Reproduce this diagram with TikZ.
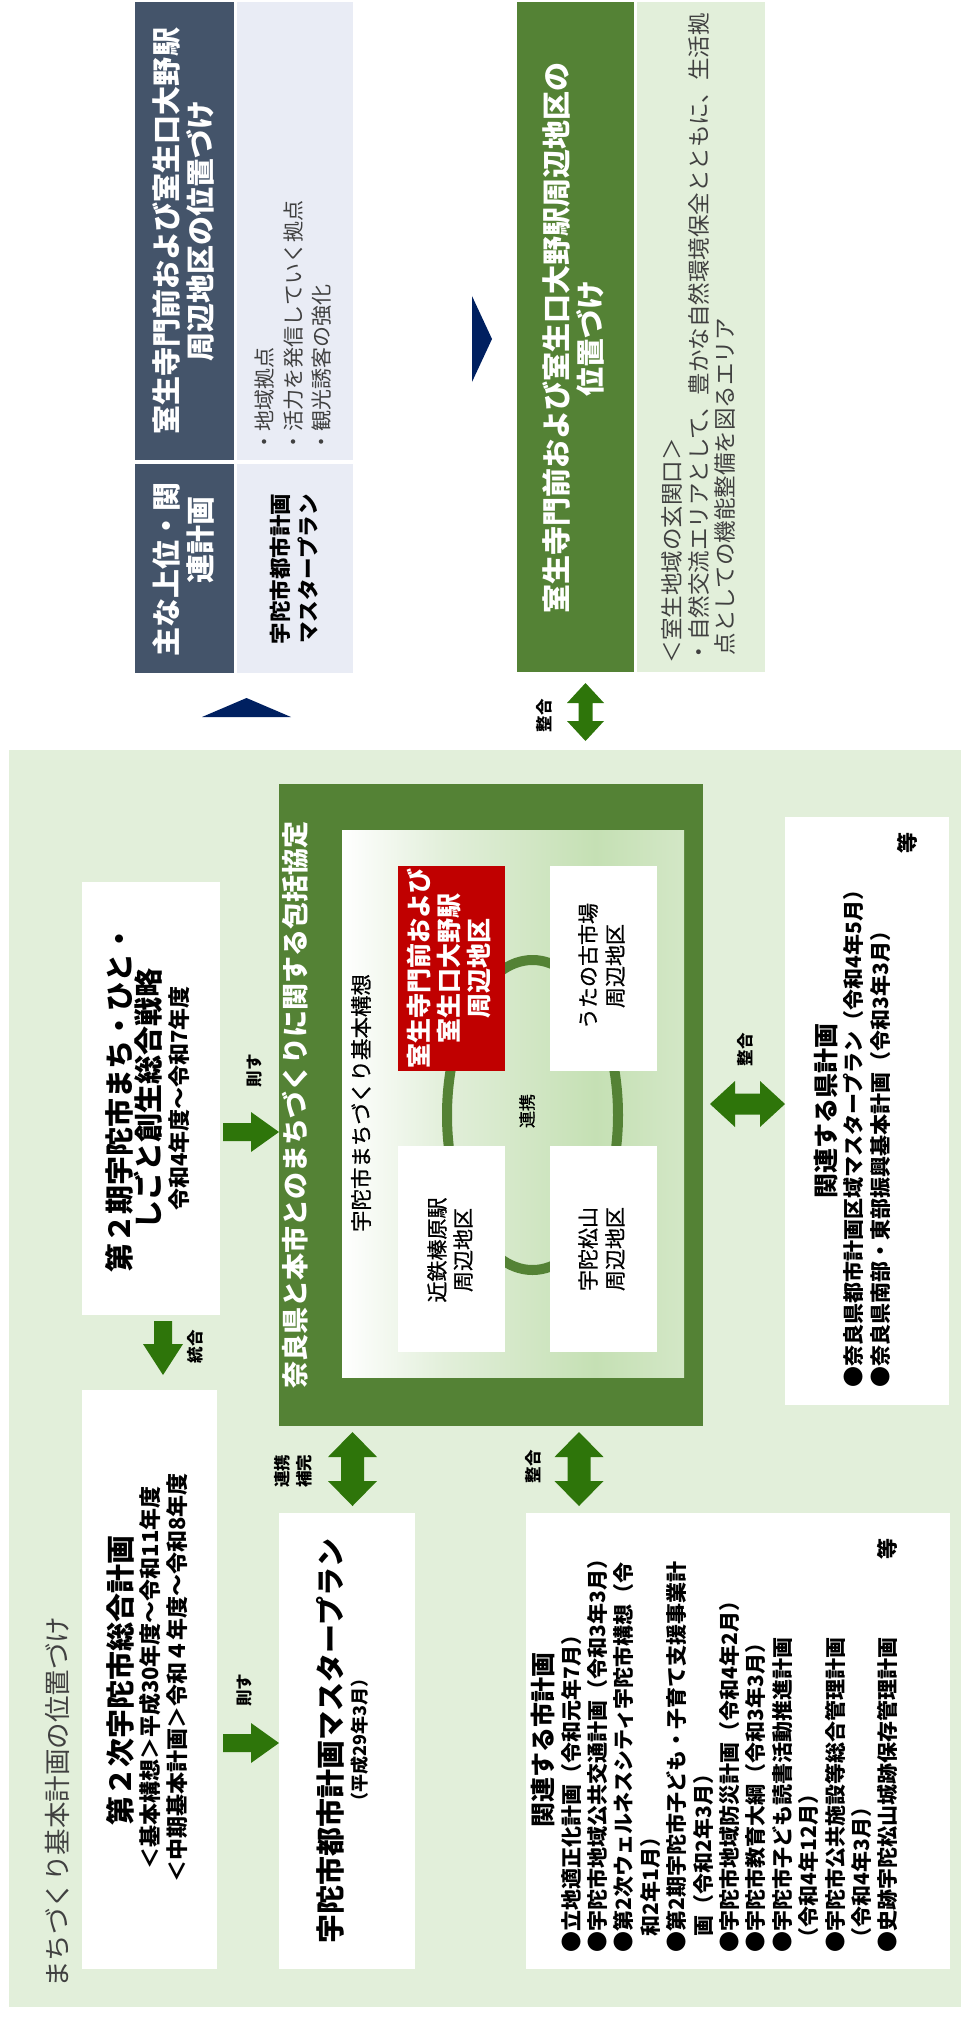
\documentclass[tikz,border=0pt]{standalone}
\usepackage{fontspec}
\setmainfont{Noto Sans CJK JP}
\newfontfamily\medfont[FakeBold=0.8]{Noto Sans CJK JP}
\usetikzlibrary{calc,fit}
\definecolor{hdrblue}{HTML}{44546A}
\definecolor{lav}{HTML}{E9ECF5}
\definecolor{navy}{HTML}{002060}
\definecolor{bandgreen}{HTML}{548235}
\definecolor{lgreen}{HTML}{E2EFDA}
\definecolor{agreen}{HTML}{2E750A}
\definecolor{redbox}{HTML}{C00000}
\definecolor{txtgray}{HTML}{404040}
\definecolor{gA}{HTML}{E2EFDA}
\definecolor{gB}{HTML}{C5E0B4}
\definecolor{gC}{HTML}{D3E7C6}
\pgfdeclarehorizontalshading{innergrad}{100bp}{color(0bp)=(white); color(25bp)=(white); color(40bp)=(gA); color(62bp)=(gB); color(75bp)=(gC); color(100bp)=(gC)}
\newcommand\fs[2]{\fontsize{#1}{#2}\selectfont}
% single block arrow: start, end, shaft half width, head half width, head length
\newcommand\sarrow[5]{%
  \coordinate (saH) at ($(#2)!#5!(#1)$);
  \fill[agreen] ($(#1)!#3!90:(#2)$) -- ($(saH)!#3!-90:(#1)$) -- ($(saH)!#4!-90:(#1)$) -- (#2) -- ($(saH)!#4!90:(#1)$) -- ($(saH)!#3!90:(#1)$) -- ($(#1)!#3!-90:(#2)$) -- cycle;}
% double block arrow
\newcommand\darrow[5]{%
  \coordinate (daA) at ($(#1)!#5!(#2)$);
  \coordinate (daB) at ($(#2)!#5!(#1)$);
  \fill[agreen] (#1) -- ($(daA)!#4!-90:(#2)$) -- ($(daA)!#3!-90:(#2)$) -- ($(daB)!#3!90:(#1)$) -- ($(daB)!#4!90:(#1)$) -- (#2) -- ($(daB)!#4!-90:(#1)$) -- ($(daB)!#3!-90:(#1)$) -- ($(daA)!#3!90:(#2)$) -- ($(daA)!#4!90:(#2)$) -- cycle;}
\tikzset{
  area/.style={inner sep=0pt, outer sep=0pt, draw=none},
  tx/.style={rotate=90, inner sep=0pt, outer sep=0pt},
  lbl/.style={tx, font=\fs{16.5}{22.5}\bfseries, align=center},
}
\begin{document}
\begin{tikzpicture}[x=1pt,y=-1pt]
\useasboundingbox (0,0) rectangle (962,2017);
% ---------- upper panels ----------
\node[area, fill=hdrblue, fit={(135,464) (234,673)}] (hdrA) {};
\node[area, fill=hdrblue, fit={(135,2) (234,460)}] (hdrB) {};
\node[area, fill=lav, fit={(237,464) (353,673)}] (lavA) {};
\node[area, fill=lav, fit={(237,2) (353,460)}] (lavB) {};
\node[area, fill=bandgreen, fit={(517,2) (634,672)}] (posH) {};
\node[area, fill=lgreen, fit={(637,2) (765,672)}] (posD) {};
\fill[navy] (202,717) -- (291,717) -- (246.5,698) -- cycle;
\fill[navy] (472,296) -- (492,339) -- (472,382) -- cycle;
% ---------- main area ----------
\node[area, fill=lgreen, fit={(9,750) (961,2007)}] (big) {};
\node[area, fill=white, fit={(82,882) (220,1315)}] (strat) {};
\node[area, fill=white, fit={(82,1390) (217,1969)}] (ctr2) {};
\node[area, fill=bandgreen, fit={(279,784) (703,1426)}] (band) {};
\node[area, shade, shading=innergrad, fit={(342,830) (684,1377)}] (inner) {};
\draw[bandgreen, line width=10pt] (532.5,1115) ellipse [x radius=85.5, y radius=155];
\node[area, fill=redbox, fit={(398,866) (505,1071)}] (muro) {};
\node[area, fill=white, fit={(550,866) (657,1071)}] (utano) {};
\node[area, fill=white, fit={(398,1146) (505,1352)}] (kintetsu) {};
\node[area, fill=white, fit={(550,1146) (657,1352)}] (matsu) {};
\node[area, fill=white, fit={(785,817) (949,1405)}] (ken) {};
\node[area, fill=white, fit={(279,1513) (415,1969)}] (ctrmp) {};
\node[area, fill=white, fit={(526,1513) (950,1969)}] (shi) {};
% ---------- arrows ----------
\path (strat.east) ++(3,33.5) coordinate (a1s);
\path (band.west |- a1s) coordinate (a1e);
\sarrow{a1s}{a1e}{9pt}{20pt}{28pt}
\path (ctr2.east) ++(6,63.5) coordinate (a2s);
\path (ctrmp.west |- a2s) coordinate (a2e);
\sarrow{a2s}{a2e}{9pt}{20pt}{28pt}
\path (strat.south) ++(12,6) coordinate (a3s);
\path (a3s) ++(0,54) coordinate (a3e);
\sarrow{a3s}{a3e}{9pt}{20pt}{31pt}
\path (posH.south) ++(10,11) coordinate (a4s);
\path (a4s) ++(0,58) coordinate (a4e);
\darrow{a4s}{a4e}{7pt}{18.5pt}{20pt}
\path (band.east) ++(7,-1) coordinate (a5s);
\path (ken.west |- a5s) coordinate (a5e);
\darrow{a5s}{a5e}{10.5pt}{23pt}{25pt}
\coordinate (a6s) at (352.5,1432);
\path (ctrmp.north -| a6s) ++(0,-7) coordinate (a6e);
\darrow{a6s}{a6e}{11.5pt}{24.5pt}{25pt}
\coordinate (a7s) at (579,1432);
\path (shi.north -| a7s) ++(0,-7) coordinate (a7e);
\darrow{a7s}{a7e}{11.5pt}{24.5pt}{25pt}
% ---------- arrow labels ----------
\node[lbl] (l1) at (254.5,1070.5) {則す};
\node[lbl] (l2) at (244.5,1690) {則す};
\node[lbl] (l3) at (195,1346.5) {統合};
\node[lbl] (l4) at (544,715.5) {整合};
\node[lbl] (l5) at (745,1049.5) {整合};
\node[lbl] (l6) at (293,1471) {連携\\補完};
\node[lbl] (l7) at (533.5,1466.5) {整合};
% ---------- upper texts ----------
\node[tx, text=white, align=center, font=\fs{29}{34}\bfseries] (hdrBt) at (183,231) {室生寺門前および室生口大野駅\\周辺地区の位置づけ};
\node[tx, text=white, font=\fs{29}{34}\bfseries] (hdrAt1) at (166,569) {主な上位・関};
\node[tx, text=white, font=\fs{29}{34}\bfseries] (hdrAt2) at (200,540) {連計画};
\node[tx, align=center, font=\fs{21.5}{28}\bfseries] (lavAt) at (294,569) {宇陀市都市計画\\マスタープラン};
\node[tx, anchor=west, align=left, text=txtgray, font=\fs{21}{28.5}] (lavBt) at (293.5,452) {・地域拠点\\・活力を発信していく拠点\\・観光誘客の強化};
\node[tx, text=white, align=center, font=\fs{29}{34}\bfseries] (posHt) at (573,338) {室生寺門前および室生口大野駅周辺地区の\\位置づけ};
\node[tx, anchor=west, align=left, text=txtgray, font=\fs{22.5}{26.5}] (posDt) at (698.5,663) {＜室生地域の玄関口＞\\・自然交流エリアとして、豊かな自然環境保全とともに、生活拠\\\hspace*{8pt}点としての機能整備を図るエリア};
% ---------- main texts ----------
\node[tx, text=txtgray, font=\fs{26.5}{30}] (bigt) at (57.5,1802) {まちづくり基本計画の位置づけ};
\node[tx, align=center, font=\fs{29}{29}\bfseries] (stratt1) at (133.5,1098.5) {第２期宇陀市まち・ひと・\\しごと創生総合戦略};
\node[tx, font=\fs{22}{26}\bfseries] (stratt2) at (179,1098.5) {令和4年度～令和7年度};
\node[tx, font=\fs{29}{34}\bfseries] (ctr2t1) at (120,1680) {第２次宇陀市総合計画};
\node[tx, align=center, font=\fs{22}{27}\bfseries] (ctr2t2) at (163.5,1678) {＜基本構想＞平成30年度～令和11年度\\＜中期基本計画＞令和４年度～令和8年度};
\node[tx, text=white, font=\fs{27}{30}\bfseries] (bandt) at (295,1105) {奈良県と本市とのまちづくりに関する包括協定};
\node[tx, font=\medfont\fs{21.5}{26}] (innert) at (361,1103) {宇陀市まちづくり基本構想};
\node[tx, text=white, align=center, font=\fs{25}{30}\bfseries] (murot) at (449,968) {室生寺門前および\\室生口大野駅\\周辺地区};
\node[tx, align=center, font=\medfont\fs{21}{27}] (utanot) at (601.5,966) {うたの古市場\\周辺地区};
\node[tx, align=center, font=\medfont\fs{21}{26}] (kintetsut) at (450,1250) {近鉄榛原駅\\周辺地区};
\node[tx, align=center, font=\medfont\fs{21}{27}] (matsut) at (601.5,1249) {宇陀松山\\周辺地区};
\node[tx, font=\medfont\fs{17}{20}] (ringt) at (527,1111) {連携};
\node[tx, font=\fs{25}{30}\bfseries] (kent) at (826,1111) {関連する県計画};
\node[tx, anchor=west, text width=555pt, align=left, font=\fs{21}{27}\bfseries] (kenl) at (880.5,1387) {●奈良県都市計画区域マスタープラン（令和4年5月）\\●奈良県南部・東部振興基本計画（令和3年3月）\\\mbox{}\hfill 等};
\node[tx, font=\fs{29}{34}\bfseries] (ctrmpt1) at (330,1741) {宇陀市都市計画マスタープラン};
\node[tx, font=\fs{18}{22}\bfseries] (ctrmpt2) at (360,1740) {（平成29年3月）};
\node[tx, font=\fs{25}{30}\bfseries] (shit) at (543,1740) {関連する市計画};
\node[tx, anchor=west, text width=414pt, align=left, font=\fs{21}{26.4}\bfseries] (shil) at (729.5,1952) {●立地適正化計画（令和元年7月）\\●宇陀市地域公共交通計画（令和3年3月）\\●第2次ウェルネスシティ宇陀市構想（令\\\hspace*{16pt}和2年1月）\\●第2期宇陀市子ども・子育て支援事業計\\\hspace*{16pt}画（令和2年3月）\\●宇陀市地域防災計画（令和4年2月）\\●宇陀市教育大綱（令和3年3月）\\●宇陀市子ども読書活動推進計画\\\hspace*{4pt}（令和4年12月）\\●宇陀市公共施設等総合管理計画\\\hspace*{4pt}（令和4年3月）\\●史跡宇陀松山城跡保存管理計画\hfill 等};
\end{tikzpicture}
\end{document}
